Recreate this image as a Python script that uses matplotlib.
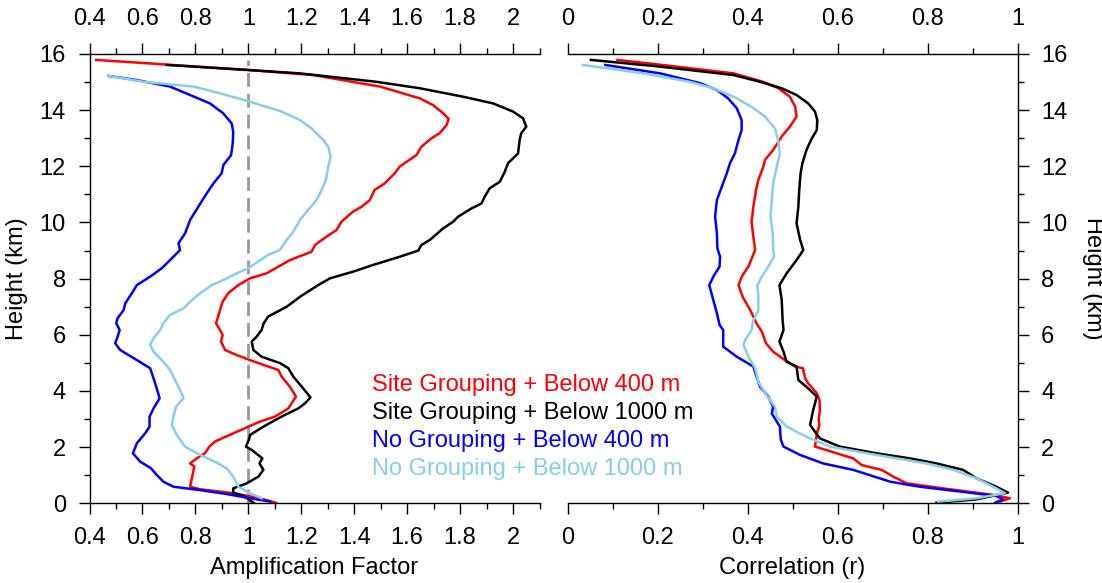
import numpy as np
import matplotlib.pyplot as plt
from matplotlib.ticker import MultipleLocator, FuncFormatter

plt.rcParams['font.family'] = ['Liberation Sans', 'DejaVu Sans']
plt.rcParams['font.size'] = 17

# ---- Amplification factor (left panel) ----
amp_site400_h = [15.79, 15.43, 15.25, 14.84, 14.42, 14.18, 13.89, 13.69, 13.47, 13.18, 13.0, 12.7,
                 12.4, 11.99, 11.75, 11.39, 11.16, 10.8, 10.56, 10.39, 10.03, 9.73, 9.5, 9.2, 8.96,
                 8.66, 8.19, 8.01, 7.77, 7.48, 7.18, 6.88, 6.41, 6.17, 6.0, 5.76, 5.46, 5.28, 5.1,
                 4.93, 4.75, 4.51, 4.15, 3.8, 3.38, 3.09, 2.91, 2.73, 2.49, 2.2, 2.02, 1.78, 1.6,
                 1.42, 1.31, 1.13, 0.59, 0.5, 0.36, 0.18, 0.02]
amp_site400 = [0.425, 1.0, 1.245, 1.497, 1.648, 1.698, 1.736, 1.757, 1.749, 1.723, 1.692, 1.654,
               1.635, 1.572, 1.553, 1.515, 1.477, 1.459, 1.428, 1.396, 1.352, 1.333, 1.296, 1.252,
               1.239, 1.157, 1.069, 1.006, 0.962, 0.924, 0.903, 0.893, 0.878, 0.893, 0.903, 0.897,
               0.912, 0.956, 1.006, 1.057, 1.113, 1.126, 1.157, 1.180, 1.151, 1.101, 1.044, 1.0,
               0.943, 0.874, 0.853, 0.836, 0.805, 0.780, 0.796, 0.792, 0.780, 0.818, 0.943, 1.044,
               1.104]

amp_site1000_h = [15.61, 15.43, 15.31, 15.01, 14.78, 14.48, 14.24, 13.95, 13.71, 13.41, 13.18,
                  12.94, 12.46, 12.11, 11.81, 11.45, 11.22, 10.92, 10.68, 10.5, 10.21, 10.03, 9.79,
                  9.38, 9.2, 9.0, 8.78, 8.49, 8.25, 8.01, 7.77, 7.36, 7.0, 6.65, 6.41, 6.17, 5.93,
                  5.76, 5.46, 5.22, 4.99, 4.81, 4.51, 4.15, 3.77, 3.56, 3.38, 3.09, 2.73, 2.43,
                  2.31, 2.02, 1.9, 1.6, 1.42, 1.19, 0.95, 0.71, 0.53, 0.38, 0.24, 0.02]
amp_site1000 = [0.692, 1.0, 1.195, 1.484, 1.648, 1.811, 1.925, 2.0, 2.038, 2.05, 2.031, 2.025,
                2.019, 1.981, 1.969, 1.950, 1.912, 1.893, 1.881, 1.843, 1.793, 1.774, 1.736, 1.686,
                1.654, 1.642, 1.572, 1.472, 1.396, 1.308, 1.264, 1.196, 1.145, 1.075, 1.058, 1.050,
                1.031, 1.013, 1.019, 1.050, 1.12, 1.151, 1.170, 1.202, 1.235, 1.214, 1.189, 1.126,
                1.057, 1.006, 1.004, 0.991, 1.013, 1.053, 1.042, 1.057, 1.038, 0.994, 0.943, 0.943,
                0.987, 1.019]

amp_no400_h = [15.22, 15.07, 14.84, 14.54, 14.24, 13.89, 13.53, 13.23, 12.82, 12.4, 12.05, 11.75,
               11.39, 11.04, 10.56, 10.09, 9.61, 9.26, 9.02, 8.78, 8.37, 8.07, 7.77, 7.48, 7.12,
               6.88, 6.59, 6.41, 6.17, 5.93, 5.7, 5.46, 5.1, 4.81, 4.51, 4.15, 3.74, 3.38, 3.09,
               2.73, 2.49, 2.14, 1.78, 1.48, 1.25, 1.01, 0.77, 0.59, 0.47, 0.33, 0.18, 0.06]
amp_no400 = [0.472, 0.579, 0.704, 0.780, 0.855, 0.905, 0.937, 0.943, 0.941, 0.935, 0.906, 0.899,
             0.868, 0.843, 0.811, 0.780, 0.761, 0.736, 0.742, 0.717, 0.673, 0.629, 0.579, 0.560,
             0.535, 0.529, 0.506, 0.501, 0.514, 0.506, 0.497, 0.516, 0.579, 0.629, 0.640, 0.652,
             0.665, 0.642, 0.627, 0.627, 0.610, 0.579, 0.564, 0.592, 0.632, 0.654, 0.679, 0.717,
             0.818, 0.918, 1.006, 1.082]

amp_no1000_h = [15.22, 15.01, 14.84, 14.6, 14.3, 13.95, 13.65, 13.35, 12.94, 12.7, 12.34, 11.99,
                11.51, 11.16, 10.8, 10.45, 10.09, 9.67, 9.38, 9.02, 8.84, 8.61, 8.37, 8.19, 7.95,
                7.77, 7.48, 7.18, 6.94, 6.71, 6.41, 6.17, 5.88, 5.64, 5.4, 5.1, 4.75, 4.39, 4.04,
                3.74, 3.44, 3.09, 2.79, 2.43, 2.02, 1.72, 1.48, 1.25, 0.95, 0.59, 0.36, 0.18]
amp_no1000 = [0.472, 0.604, 0.793, 0.893, 1.006, 1.126, 1.195, 1.239, 1.283, 1.302, 1.311, 1.302,
              1.293, 1.277, 1.258, 1.226, 1.195, 1.170, 1.145, 1.119, 1.074, 1.037, 1.0, 0.956,
              0.906, 0.862, 0.818, 0.780, 0.755, 0.704, 0.679, 0.667, 0.642, 0.629, 0.642, 0.673,
              0.704, 0.723, 0.742, 0.755, 0.727, 0.717, 0.711, 0.730, 0.761, 0.818, 0.874, 0.918,
              0.943, 0.962, 1.006, 1.050]

# ---- Correlation (right panel) ----
cor_site400_h = [15.79, 15.55, 15.31, 15.01, 14.78, 14.48, 14.12, 13.77, 13.41, 13.06, 12.58,
                 12.23, 11.93, 11.51, 11.16, 10.56, 10.03, 9.5, 9.02, 8.43, 8.07, 7.77, 7.36, 6.88,
                 6.41, 6.11, 5.7, 5.4, 5.1, 4.87, 4.81, 4.45, 4.27, 3.92, 3.68, 3.32, 2.97, 2.79,
                 2.49, 2.02, 1.78, 1.6, 1.36, 1.19, 0.95, 0.71, 0.53, 0.3, 0.18, 0.06]
cor_site400 = [0.111, 0.243, 0.369, 0.435, 0.469, 0.494, 0.506, 0.509, 0.494, 0.476, 0.457, 0.439,
               0.434, 0.424, 0.419, 0.413, 0.409, 0.413, 0.417, 0.402, 0.387, 0.380, 0.389, 0.406,
               0.420, 0.432, 0.441, 0.457, 0.483, 0.506, 0.523, 0.528, 0.535, 0.554, 0.560, 0.561,
               0.558, 0.560, 0.554, 0.550, 0.598, 0.635, 0.654, 0.698, 0.724, 0.754, 0.835, 0.946,
               0.983, 0.961]

cor_site1000_h = [15.79, 15.55, 15.25, 15.01, 14.78, 14.54, 14.24, 13.95, 13.65, 13.29, 13.0,
                  12.58, 12.11, 11.75, 11.16, 10.56, 9.97, 9.38, 9.02, 8.66, 8.19, 7.77, 7.24, 6.53,
                  6.17, 5.76, 5.4, 5.04, 4.87, 4.39, 4.09, 3.8, 3.32, 2.79, 2.31, 2.02, 1.78, 1.6,
                  1.42, 1.19, 0.89, 0.59, 0.38, 0.14, 0.02]
cor_site1000 = [0.052, 0.206, 0.369, 0.428, 0.476, 0.509, 0.535, 0.550, 0.555, 0.554, 0.543, 0.531,
                0.522, 0.518, 0.515, 0.513, 0.509, 0.517, 0.524, 0.509, 0.487, 0.471, 0.476, 0.478,
                0.480, 0.471, 0.480, 0.487, 0.509, 0.513, 0.535, 0.554, 0.546, 0.539, 0.561, 0.605,
                0.687, 0.761, 0.820, 0.879, 0.909, 0.953, 0.979, 0.909, 0.820]

cor_no400_h = [15.61, 15.31, 14.96, 14.72, 14.42, 14.07, 13.65, 13.29, 12.94, 12.46, 12.11, 11.75,
               11.28, 10.8, 10.21, 9.61, 9.08, 8.78, 8.43, 8.13, 7.77, 7.24, 6.77, 6.35, 6.17,
               5.88, 5.58, 5.22, 4.87, 4.51, 4.15, 3.8, 3.44, 3.2, 2.73, 2.26, 2.02, 1.72, 1.42,
               1.19, 0.77, 0.59, 0.42, 0.26, 0.14, 0.02]
cor_no400 = [0.084, 0.206, 0.295, 0.332, 0.357, 0.376, 0.387, 0.387, 0.380, 0.372, 0.361, 0.354,
             0.343, 0.332, 0.328, 0.332, 0.333, 0.339, 0.338, 0.326, 0.315, 0.324, 0.332, 0.338,
             0.346, 0.346, 0.346, 0.376, 0.413, 0.420, 0.428, 0.446, 0.457, 0.454, 0.472, 0.474,
             0.480, 0.517, 0.568, 0.635, 0.717, 0.783, 0.872, 0.953, 0.968, 0.950]

cor_no1000_h = [15.61, 15.31, 15.01, 14.78, 14.48, 14.12, 13.77, 13.35, 12.94, 12.46, 11.99,
                11.39, 10.8, 10.21, 9.61, 9.08, 8.78, 8.43, 8.07, 7.77, 7.36, 6.88, 6.47, 6.17,
                5.82, 5.64, 5.22, 4.81, 4.33, 3.92, 3.44, 3.09, 2.73, 2.37, 2.02, 1.72, 1.42, 1.19,
                0.89, 0.53, 0.36, 0.18, 0.06]
cor_no1000 = [0.034, 0.169, 0.272, 0.324, 0.369, 0.409, 0.439, 0.461, 0.468, 0.472, 0.465, 0.457,
              0.454, 0.451, 0.456, 0.457, 0.459, 0.446, 0.432, 0.422, 0.424, 0.424, 0.412, 0.409,
              0.395, 0.391, 0.402, 0.417, 0.424, 0.439, 0.461, 0.465, 0.487, 0.531, 0.583, 0.687,
              0.798, 0.857, 0.909, 0.953, 0.972, 0.909, 0.824]

labels = ['Site Grouping + Below 400 m', 'Site Grouping + Below 1000 m',
          'No Grouping + Below 400 m', 'No Grouping + Below 1000 m']
colors = ['#ff0000', '#000000', '#0000ff', '#87ceeb']

fig = plt.figure(figsize=(11.02, 5.83), dpi=100)
ax1 = fig.add_axes([89.5 / 1102, 1 - 503.3 / 583, 450 / 1102, 449.3 / 583])
ax2 = fig.add_axes([567.5 / 1102, 1 - 503.3 / 583, 450 / 1102, 449.3 / 583])
ax1.set_zorder(3)

amp = [(amp_site400, amp_site400_h), (amp_site1000, amp_site1000_h),
       (amp_no400, amp_no400_h), (amp_no1000, amp_no1000_h)]
cor = [(cor_site400, cor_site400_h), (cor_site1000, cor_site1000_h),
       (cor_no400, cor_no400_h), (cor_no1000, cor_no1000_h)]

ax1.plot([1, 1], [0, 15.8], color='#999999', lw=2, ls=(0, (5, 2.5)), zorder=1)
for (x, h), c in zip(amp, colors):
    ax1.plot(x, h, color=c, lw=1.8, zorder=2)
for (x, h), c in zip(cor, colors):
    ax2.plot(x, h, color=c, lw=1.8, zorder=2)

# legend as coloured text
for i, (lab, c) in enumerate(zip(labels, colors)):
    ax1.text(1.466, 4 - i, lab, color=c, va='baseline', ha='left', zorder=3, clip_on=False)

fmt = FuncFormatter(lambda v, p: '{:g}'.format(round(v, 2)))

for ax in (ax1, ax2):
    ax.set_ylim(0, 16)
    ax.yaxis.set_major_locator(MultipleLocator(2))
    ax.yaxis.set_minor_locator(MultipleLocator(1))
    ax.xaxis.set_major_locator(MultipleLocator(0.2))
    ax.xaxis.set_minor_locator(MultipleLocator(0.1))
    ax.xaxis.set_major_formatter(fmt)
    ax.tick_params(which='major', direction='out', length=8, width=1, pad=9,
                   top=True, labeltop=True, bottom=True, labelbottom=True)
    ax.tick_params(which='minor', direction='out', length=4, width=1,
                   top=True, bottom=True)
    for s in ax.spines.values():
        s.set_linewidth(1)

ax1.set_xlim(0.4, 2.1)
ax1.spines['right'].set_visible(False)
ax1.tick_params(which='both', right=False)
ax1.set_xlabel('Amplification Factor', labelpad=6)
ax1.set_ylabel('Height (km)', labelpad=8)

ax2.set_xlim(0, 1)
ax2.spines['left'].set_visible(False)
ax2.yaxis.tick_right()
ax2.yaxis.set_label_position('right')
ax2.tick_params(which='both', left=False)
ax2.set_xlabel('Correlation (r)', labelpad=6)
ax2.set_ylabel('Height (km)', rotation=270, labelpad=26)

fig.savefig('out.png', dpi=100)
